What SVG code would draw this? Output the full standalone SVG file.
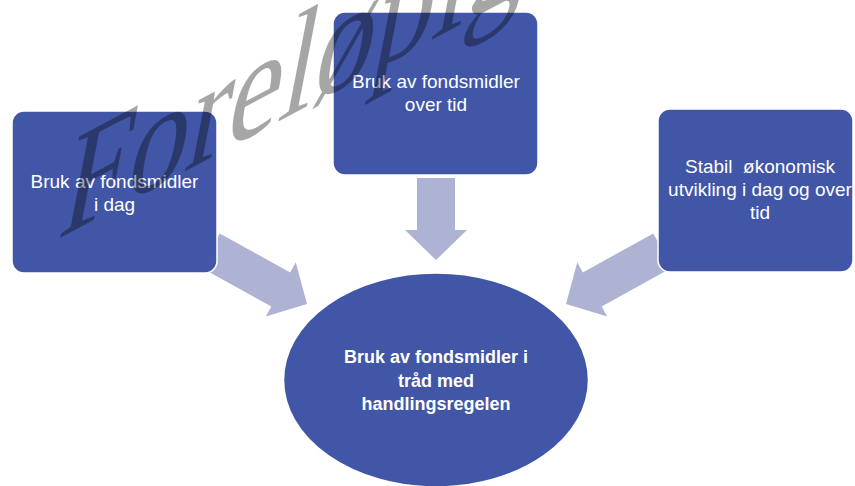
<svg xmlns="http://www.w3.org/2000/svg" width="855" height="486" viewBox="0 0 855 486">
<style>
.box{fill:#4156A6;stroke:#FFFFFF;stroke-width:1.5}
.arrow{fill:#AFB3D3;stroke:none}
.lbl{font-family:"Liberation Sans",Arial,sans-serif;font-size:19px;fill:#FFFFFF;text-anchor:middle;white-space:pre}
.lblb{font-family:"Liberation Sans",Arial,sans-serif;font-size:18px;font-weight:bold;fill:#FFFFFF;text-anchor:middle}
.wm{font-family:"Liberation Serif","Times New Roman",serif;font-size:100px;fill:#000000;fill-opacity:0.35}
</style>
<defs>
<polygon id="arr" points="0,-19.5 80.5,-19.5 80.5,-31 110.5,0 80.5,31 80.5,19.5 0,19.5"/>
</defs>
<rect width="855" height="486" fill="#FFFFFF"/>
<g id="connectors">
<use href="#arr" class="arrow" transform="translate(210.3,250.5) rotate(28.95)"/>
<polygon class="arrow" points="417,178 455,178 455,230 467,230 436,260 405,230 417,230"/>
<use href="#arr" class="arrow" transform="translate(662.7,250.5) rotate(151.05)"/>
</g>
<g id="node-today">
<rect class="box" x="12" y="111" width="205" height="162" rx="12"/>
<text class="lbl" x="114.5" y="188">Bruk av fondsmidler</text>
<text class="lbl" x="114.5" y="211">i dag</text>
</g>
<g id="node-overtime">
<rect class="box" x="333" y="12" width="205" height="163" rx="12"/>
<text class="lbl" x="436" y="88">Bruk av fondsmidler</text>
<text class="lbl" x="436" y="111">over tid</text>
</g>
<g id="node-stable">
<rect class="box" x="658" y="109" width="195" height="163" rx="12"/>
<text class="lbl" x="760" y="173">Stabil  økonomisk</text>
<text class="lbl" x="760" y="196">utvikling i dag og over</text>
<text class="lbl" x="760" y="219">tid</text>
</g>
<g id="node-rule">
<ellipse class="box" cx="436" cy="380" rx="152.5" ry="107"/>
<text class="lblb" x="436" y="363">Bruk av fondsmidler i</text>
<text class="lblb" x="436" y="387">tråd med</text>
<text class="lblb" x="436" y="410">handlingsregelen</text>
</g>
<text class="wm" transform="matrix(1.2,-0.64,-0.3,1.55,56,240)">Foreløpig</text>
</svg>
